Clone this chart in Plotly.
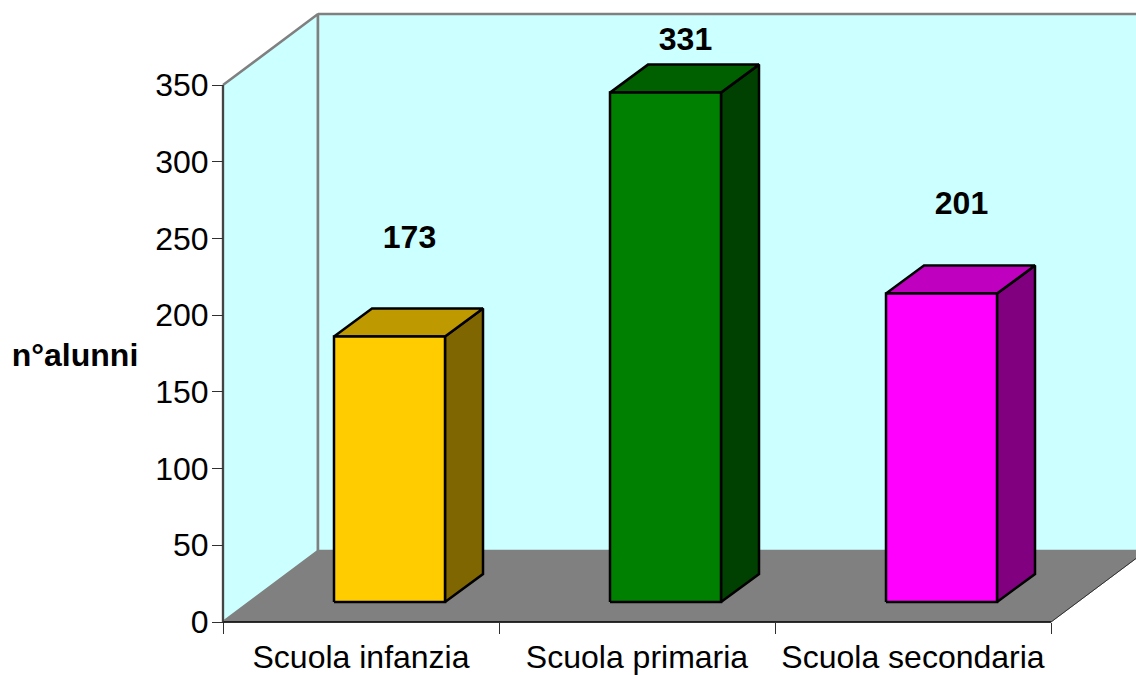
import plotly.graph_objects as go

categories = ["Scuola infanzia", "Scuola primaria", "Scuola secondaria"]
value_labels = ["173", "331", "201"]
bar_heights = [173, 332, 201]
label_heights = [249, 378, 271]
front_colors = ["#FFCC00", "#008000", "#FF00FF"]
top_colors = ["#BF9900", "#006000", "#BF00BF"]
side_colors = ["#806600", "#004000", "#800080"]
y_ticks = [0, 50, 100, 150, 200, 250, 300, 350]

FIG_W, FIG_H = 1136, 675
ORIGIN_X, ORIGIN_Y = 223, 622
X_PX = 276.0
Y_PX = 537 / 350
n = len(categories)
top = 350

x_range = [-ORIGIN_X / X_PX, (FIG_W - ORIGIN_X) / X_PX]
y_range = [(ORIGIN_Y - FIG_H) / Y_PX, ORIGIN_Y / Y_PX]

WALL_DX = 95 / X_PX
WALL_DY = 71 / Y_PX
BAR_W = 111 / X_PX
BASE_DX = 28.5 / X_PX
BASE_DY = 20 / Y_PX
DEPTH_DX = 38 / X_PX
DEPTH_DY = 28 / Y_PX
LABEL_DX = 48.5 / X_PX


def poly(xs, ys, fill, line_color, width):
    return go.Scatter(
        x=xs + xs[:1], y=ys + ys[:1], mode="lines", fill="toself", fillcolor=fill,
        line=dict(color=line_color, width=width), hoverinfo="skip", showlegend=False,
    )


def segment(xs, ys, color, width):
    return go.Scatter(x=xs, y=ys, mode="lines", line=dict(color=color, width=width),
                      hoverinfo="skip", showlegend=False)


fig = go.Figure()

# walls and floor
fig.add_trace(poly([0, WALL_DX, WALL_DX, 0], [top, top + WALL_DY, WALL_DY, 0], "#CCFFFF", "#808080", 2.5))
fig.add_trace(poly([WALL_DX, n + WALL_DX, n + WALL_DX, WALL_DX],
                   [top + WALL_DY, top + WALL_DY, WALL_DY, WALL_DY], "#CCFFFF", "#808080", 2.5))
fig.add_trace(poly([0, n, n + WALL_DX, WALL_DX], [0, 0, WALL_DY, WALL_DY], "#808080", "#808080", 1))
fig.add_trace(segment([n, n + WALL_DX], [0, WALL_DY], "#303030", 1))

for i, v in enumerate(bar_heights):
    x0 = i + (1 - BAR_W) / 2 + BASE_DX
    x1 = x0 + BAR_W
    y0 = BASE_DY
    y1 = BASE_DY + v
    fig.add_trace(poly([x1, x1 + DEPTH_DX, x1 + DEPTH_DX, x1],
                       [y0, y0 + DEPTH_DY, y1 + DEPTH_DY, y1], side_colors[i], "#000000", 2.5))
    fig.add_trace(poly([x0, x0 + DEPTH_DX, x1 + DEPTH_DX, x1],
                       [y1, y1 + DEPTH_DY, y1 + DEPTH_DY, y1], top_colors[i], "#000000", 2.5))
    fig.add_trace(poly([x0, x1, x1, x0], [y0, y0, y1, y1], front_colors[i], "#000000", 2.5))

# axis lines (the full-page axes cannot draw them only over the data span)
fig.add_trace(segment([0, n], [0, 0], "#000000", 1.5))
fig.add_trace(segment([0, 0], [0, top], "#303030", 1.5))

fig.add_trace(go.Scatter(
    x=[i + 0.5 + LABEL_DX for i in range(n)], y=label_heights, mode="text",
    text=value_labels, textposition="middle center",
    textfont=dict(family="Liberation Sans", size=32, color="#000000", weight="bold"),
    hoverinfo="skip", showlegend=False,
))

fig.add_trace(go.Scatter(
    x=[(75 - ORIGIN_X) / X_PX], y=[(ORIGIN_Y - 358) / Y_PX], mode="text", text=["n°alunni"],
    textposition="middle center",
    textfont=dict(family="Liberation Sans", size=32, color="#000000", weight="bold"),
    hoverinfo="skip", showlegend=False,
))

fig.update_layout(
    width=FIG_W, height=FIG_H, autosize=False,
    margin=dict(l=0, r=0, t=0, b=0),
    paper_bgcolor="#FFFFFF", plot_bgcolor="#FFFFFF",
    font=dict(family="Liberation Sans", color="#000000"),
    xaxis=dict(
        range=x_range, anchor="free", position=(FIG_H - ORIGIN_Y) / FIG_H, automargin=False,
        tickvals=[i + 0.5 for i in range(n)], ticktext=categories,
        ticks="", showgrid=False, zeroline=False, showline=False,
        tickfont=dict(size=32), ticklabelstandoff=13, layer="above traces",
        minor=dict(tickvals=list(range(n + 1)), ticks="outside", ticklen=11,
                   tickcolor="#303030", tickwidth=1, showgrid=False),
    ),
    yaxis=dict(
        range=y_range, anchor="free", position=ORIGIN_X / FIG_W, automargin=False,
        tickvals=y_ticks, ticks="outside", ticklen=11, tickcolor="#303030", tickwidth=1,
        showgrid=False, zeroline=False, showline=False,
        tickfont=dict(size=32), ticklabelstandoff=-3, layer="above traces",
    ),
)

fig.write_html("out.html", config=dict(displayModeBar=False),
               post_script="document.body.style.margin='0';document.body.style.overflow='hidden';")
